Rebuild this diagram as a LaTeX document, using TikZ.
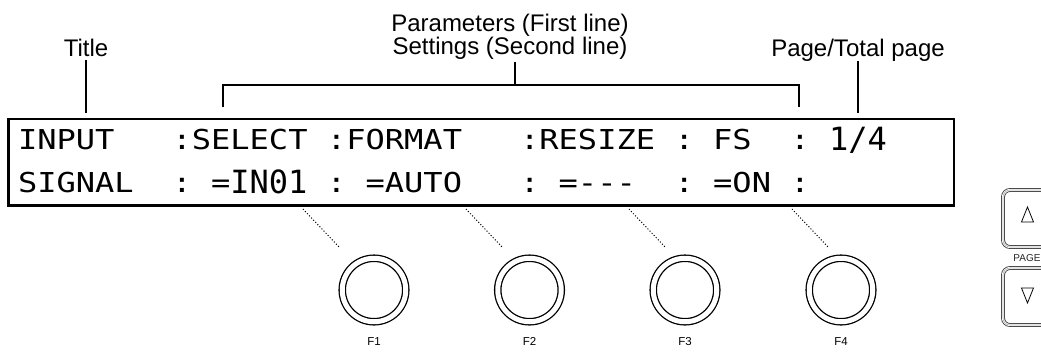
\documentclass[tikz,border=0pt]{standalone}
\usepackage{fontspec}
\setmainfont{Liberation Sans}
\newfontfamily\lcdfont[FakeStretch=1.17]{DejaVu Sans Mono}
\newfontfamily\lcdbigfont{DejaVu Sans Mono}
\tikzset{
  lbl/.style={font=\fontsize{24}{28}\selectfont, inner sep=0pt, anchor=base},
  lcd/.style={font=\lcdfont\fontsize{27.4}{30}\selectfont, inner sep=0pt, anchor=base west},
  lcdbig/.style={font=\lcdbigfont\fontsize{32}{34}\selectfont, inner sep=0pt, anchor=base west},
  lead/.style={line width=2pt},
  dotline/.style={line width=1pt, dash pattern=on 1pt off 2pt},
  knob/.style={circle, draw, line width=1.3pt, double=white, double distance=5pt, minimum size=63.5pt, inner sep=0pt},
  flbl/.style={font=\fontsize{11.5}{13}\selectfont, inner sep=0pt, anchor=base},
  btnouter/.style={draw=black!80, line width=0.8pt, double=white, double distance=2.2pt, rounded corners=7pt},
  btninner/.style={draw=gray!60, line width=0.6pt, rounded corners=7pt},
  tri/.style={line width=0.8pt, line join=miter}
}
\begin{document}
\begin{tikzpicture}[x=1pt,y=-1pt]
\useasboundingbox (0,0) rectangle (1041,354);
\clip (0,0) rectangle (1041,354);

% display box
\node[draw, line width=2.8pt, minimum width=945.5pt, minimum height=86.5pt, inner sep=0pt] (screen) at (481.25,162.25) {};

% row 1 (baseline 149.5)
\node[lcd] (r1a) at ({17.8+19.31*0},149.5) {INPUT};
\node[lcd] (r1b) at ({17.8+19.31*8},149.5) {:SELECT};
\node[lcd] (r1c) at ({17.8+19.31*16},149.5) {:FORMAT};
\node[lcd] (r1d) at ({17.8+19.31*26},149.5) {:RESIZE};
\node[lcd] (r1e) at ({17.8+19.31*34},149.5) {:};
\node[lcd] (r1f) at ({17.8+19.31*36},149.5) {FS};
\node[lcd] (r1g) at ({17.8+19.31*40},149.5) {:};
\node[lcdbig] (r1h) at ({17.8+19.31*42},150) {1/4};

% row 2 (baseline 192.5)
\node[lcd] (r2a) at ({17.8+19.31*0},192.5) {SIGNAL};
\node[lcd] (r2b) at ({17.8+19.31*8},192.5) {:};
\node[lcd] (r2c) at ({17.8+19.31*10},192.5) {=};
\node[lcdbig] (r2d) at ({17.8+19.31*11},193.5) {IN01};
\node[lcd] (r2e) at ({17.8+19.31*16},192.5) {:};
\node[lcd] (r2f) at ({17.8+19.31*18},192.5) {=AUTO};
\node[lcd] (r2g) at ({17.8+19.31*26},192.5) {:};
\node[lcd] (r2h) at ({17.8+19.31*28},192.5) {=---};
\node[lcd] (r2i) at ({17.8+19.31*34},192.5) {:};
\node[lcd] (r2j) at ({17.8+19.31*36},192.5) {=ON};
\node[lcd] (r2k) at ({17.8+19.31*40},192.5) {:};

% top labels
\node[lbl] (title) at (86,56) {Title};
\node[lbl] (params) at (510,31) {Parameters (First line)};
\node[lbl] (settings) at (510,54.5) {Settings (Second line)};
\node[lbl] (pagetot) at (858,56) {Page/Total page};

\coordinate (t1) at (86,60);
\coordinate (t2) at (86,113);
\draw[lead] (t1) -- (t2);

\coordinate (p1) at (858,61);
\coordinate (p2) at (858,113);
\draw[lead] (p1) -- (p2);

\coordinate (s1) at (515,62);
\coordinate (s2) at (515,85);
\coordinate (bl) at (223,107);
\coordinate (br) at (799,107);
\draw[lead] (s1) -- (s2);
\draw[lead] (bl) -- (bl |- s2) -- (br |- s2) -- (br);

% knobs
\node[knob] (k1) at (374,290) {};
\node[knob] (k2) at (529.5,290) {};
\node[knob] (k3) at (685,290) {};
\node[knob] (k4) at (841,290) {};

\node[flbl] (f1) at (374,345) {F1};
\node[flbl] (f2) at (529.5,345) {F2};
\node[flbl] (f3) at (685,345) {F3};
\node[flbl] (f4) at (841,345) {F4};

% dotted leaders
\coordinate (d1a) at (303,209); \coordinate (d1b) at (340,248);
\coordinate (d2a) at (466,209); \coordinate (d2b) at (503,248);
\coordinate (d3a) at (629,209); \coordinate (d3b) at (666,248);
\coordinate (d4a) at (792,209); \coordinate (d4b) at (829,248);
\draw[dotline] (d1a) -- (d1b);
\draw[dotline] (d2a) -- (d2b);
\draw[dotline] (d3a) -- (d3b);
\draw[dotline] (d4a) -- (d4b);

% page buttons
\coordinate (u1) at (1060,190); \coordinate (u2) at (1003,190);
\coordinate (u3) at (1003,247); \coordinate (u4) at (1060,247);
\coordinate (w1) at (1060,268); \coordinate (w2) at (1003,268);
\coordinate (w3) at (1003,325); \coordinate (w4) at (1060,325);
\draw[btnouter] (u1) -- (u2) -- (u3) -- (u4);
\draw[btninner] (u1) -- (u2) -- (u3) -- (u4);
\draw[btnouter] (w1) -- (w2) -- (w3) -- (w4);
\draw[btninner] (w1) -- (w2) -- (w3) -- (w4);

\coordinate (ua) at (1027.5,207); \coordinate (ub) at (1021.5,222); \coordinate (uc) at (1033.5,222);
\draw[tri] (ua) -- (ub) -- (uc) -- cycle;
\coordinate (da) at (1027.5,303); \coordinate (db) at (1021.5,288); \coordinate (dc) at (1033.5,288);
\draw[tri] (da) -- (db) -- (dc) -- cycle;

\node[font=\fontsize{10}{12}\selectfont, text=black!85, inner sep=0pt] (pagelbl) at (1027,258) {PAGE};
\end{tikzpicture}
\end{document}
